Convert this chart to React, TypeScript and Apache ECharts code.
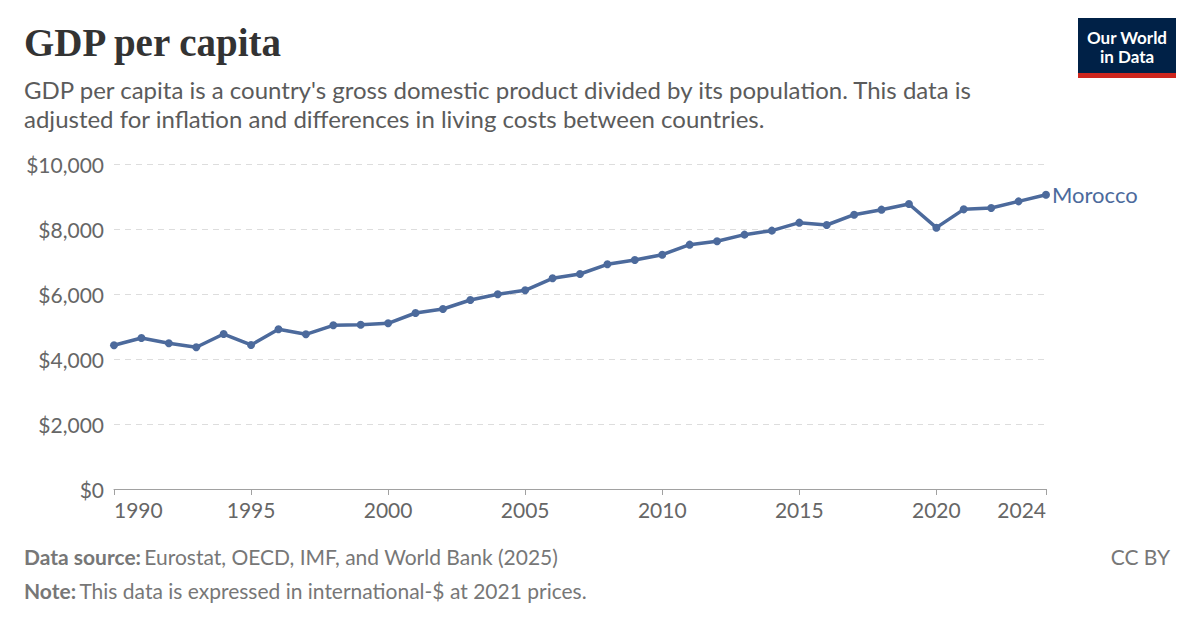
import React, { useEffect, useRef } from "react";
import * as echarts from "echarts";

const years = [
  "1990", "1991", "1992", "1993", "1994", "1995", "1996", "1997", "1998", "1999",
  "2000", "2001", "2002", "2003", "2004", "2005", "2006", "2007", "2008", "2009",
  "2010", "2011", "2012", "2013", "2014", "2015", "2016", "2017", "2018", "2019",
  "2020", "2021", "2022", "2023", "2024",
];
const labeledYears = ["1990", "1995", "2000", "2005", "2010", "2015", "2020", "2024"];
const morocco = [
  4422, 4646, 4483, 4360, 4769, 4431, 4914, 4760, 5036, 5056,
  5098, 5415, 5538, 5815, 5990, 6113, 6483, 6615, 6913, 7046,
  7210, 7518, 7621, 7826, 7949, 8195, 8123, 8441, 8595, 8769,
  8041, 8605, 8646, 8851, 9055,
];
const seriesName = "Morocco";
const yMin = 0;
const yMax = 10000;
const yStep = 2000;

const TITLE = "GDP per capita";
const SUBTITLE_1 =
  "GDP per capita is a country's gross domestic product divided by its population. This data is";
const SUBTITLE_2 = "adjusted for inflation and differences in living costs between countries.";
const SOURCE = "Eurostat, OECD, IMF, and World Bank (2025)";
const NOTE = "This data is expressed in international-$ at 2021 prices.";

const LINE_COLOR = "#4c6a9c";
const FONT = "Lato, 'Noto Sans', sans-serif";

export default function App() {
  const ref = useRef<HTMLDivElement>(null);
  useEffect(() => {
    if (!ref.current) return;
    const chart = echarts.init(ref.current, undefined, { renderer: "svg" });
    const showYear = (idx: number) => labeledYears.includes(years[idx]);
    const footRich = {
      b: { fontSize: 21, fontWeight: "bold", fontFamily: FONT, fill: "#777777" },
      r: { fontSize: 21, fontFamily: FONT, fill: "#777777" },
    };
    chart.setOption({
      animation: false,
      backgroundColor: "#ffffff",
      grid: { left: 114, right: 154, top: 164, bottom: 138, containLabel: false },
      xAxis: {
        type: "category",
        data: years,
        boundaryGap: false,
        axisLine: { show: true, lineStyle: { color: "#a1a1a1", width: 1 } },
        axisTick: {
          show: true,
          interval: (idx: number) => showYear(idx),
          length: 6,
          lineStyle: { color: "#a1a1a1" },
        },
        axisLabel: {
          interval: (idx: number) => showYear(idx),
          color: "#666666",
          fontSize: 21,
          fontFamily: FONT,
          margin: 10,
          alignMinLabel: "left",
          alignMaxLabel: "right",
        },
        splitLine: { show: false },
      },
      yAxis: {
        type: "value",
        min: yMin,
        max: yMax,
        interval: yStep,
        axisLine: { show: false },
        axisTick: { show: false },
        axisLabel: {
          color: "#666666",
          fontSize: 21,
          fontFamily: FONT,
          margin: 10,
          formatter: (v: number) => "$" + v.toLocaleString("en-US"),
        },
        splitLine: {
          show: true,
          lineStyle: { color: "#dddddd", type: [6, 5], width: 1 },
        },
      },
      series: [
        {
          name: seriesName,
          type: "line",
          data: morocco,
          symbol: "circle",
          symbolSize: 8,
          showSymbol: true,
          itemStyle: { color: LINE_COLOR },
          lineStyle: { color: LINE_COLOR, width: 3.5 },
          endLabel: {
            show: true,
            formatter: seriesName,
            color: LINE_COLOR,
            fontSize: 22,
            fontFamily: FONT,
            distance: 6,
          },
        },
      ],
      graphic: [
        {
          type: "text",
          left: 24,
          top: 23,
          style: {
            text: TITLE,
            font: "bold 39px 'Liberation Serif', 'DejaVu Serif', serif",
            fill: "#333333",
          },
        },
        {
          type: "text",
          left: 24,
          top: 75,
          style: {
            text: SUBTITLE_1 + "\n" + SUBTITLE_2,
            fontSize: 24,
            fontFamily: FONT,
            lineHeight: 29,
            fill: "#5b5b5b",
          },
        },
        {
          type: "group",
          left: 1078,
          top: 18,
          children: [
            { type: "rect", shape: { x: 0, y: 0, width: 98, height: 60 }, style: { fill: "#002147" } },
            { type: "rect", shape: { x: 0, y: 55, width: 98, height: 5 }, style: { fill: "#ce261e" } },
            {
              type: "text",
              x: 49,
              y: 10,
              style: {
                text: "Our World\nin Data",
                fontSize: 17,
                fontWeight: "bold",
                fontFamily: FONT,
                lineHeight: 19,
                fill: "#ffffff",
                align: "center",
                verticalAlign: "top",
              },
            },
          ],
        },
        {
          type: "text",
          left: 24,
          top: 546,
          style: { text: "{b|Data source:} {r|" + SOURCE + "}", rich: footRich, fill: "#777777" },
        },
        {
          type: "text",
          left: 24,
          top: 580,
          style: { text: "{b|Note:} {r|" + NOTE + "}", rich: footRich, fill: "#777777" },
        },
        {
          type: "text",
          right: 30,
          top: 546,
          style: {
            text: "CC BY",
            fontSize: 21,
            fontFamily: FONT,
            fill: "#777777",
          },
        },
      ],
    });
    return () => chart.dispose();
  }, []);
  return (
    <div
      ref={ref}
      style={{ position: "fixed", left: 0, top: 0, width: 1200, height: 627, background: "#fff" }}
    />
  );
}
